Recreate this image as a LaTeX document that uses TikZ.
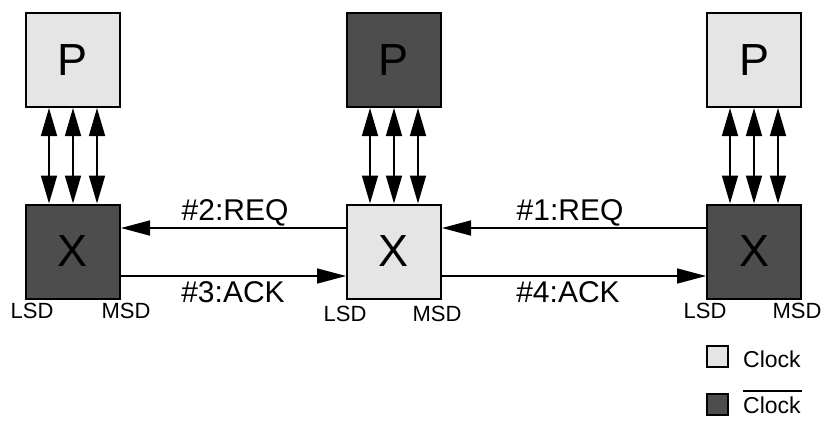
\documentclass[tikz,border=0pt]{standalone}
\usepackage{fontspec}
\setmainfont{Liberation Sans}
\usepackage{xcolor}
\usetikzlibrary{arrows.meta, positioning, calc}
\definecolor{clklight}{RGB}{229, 229, 229}
\definecolor{clkdark}{RGB}{77, 77, 77}

\begin{document}
\begin{tikzpicture}[
  x=1pt, y=-1pt,
  unit/.style={draw=black, line width=2pt, minimum width=94pt, minimum height=94pt, inner sep=0pt, font=\fontsize{45}{50}\selectfont},
  hi/.style={unit, fill=clklight},
  lo/.style={unit, fill=clkdark},
  bus/.style={{Triangle[length=28pt, width=16pt]}-{Triangle[length=28pt, width=16pt]}, line width=1.6pt},
  msg/.style={-{Triangle[length=29pt, width=15pt]}, line width=1.6pt},
  tag/.style={font=\fontsize{30}{34}\selectfont, anchor=base, inner sep=0pt},
  digit/.style={font=\fontsize{22}{26}\selectfont, anchor=base, inner sep=0pt},
  key/.style={draw=black, line width=1.6pt, minimum size=21.5pt, inner sep=0pt},
  keytext/.style={font=\fontsize{23}{27}\selectfont, anchor=base west, inner sep=0pt}
]
  \useasboundingbox (0,0) rectangle (830,421);

  % Prozessoren und Vermittler
  \node[hi] (p1) at (73, 60) {P};
  \node[lo] (p2) at (394, 60) {P};
  \node[hi] (p3) at (754, 60) {P};
  \node[lo] (x1) at (73, 251.5) {X};
  \node[hi] (x2) at (394, 251.5) {X};
  \node[lo] (x3) at (754, 251.5) {X};

  \foreach \i in {1,2,3}
    \foreach \d in {-24,0,24}
      \draw[bus] ([xshift=\d pt]p\i.south) -- ([xshift=\d pt]x\i.north);

  % Nachrichten
  \draw[msg] ([yshift=23.5pt]x2.west) -- ([yshift=23.5pt]x1.east);
  \draw[msg] ([yshift=-24.5pt]x1.east) -- ([yshift=-24.5pt]x2.west);
  \draw[msg] ([yshift=23.5pt]x3.west) -- ([yshift=23.5pt]x2.east);
  \draw[msg] ([yshift=-24.5pt]x2.east) -- ([yshift=-24.5pt]x3.west);

  \node[tag] (req2) at (235, 220) {\#2:REQ};
  \node[tag] (ack3) at (233, 302) {\#3:ACK};
  \node[tag] (req1) at (570, 220) {\#1:REQ};
  \node[tag] (ack4) at (568, 302) {\#4:ACK};

  \node[digit] (lsd1) at (32, 318) {LSD};
  \node[digit] (msd1) at (126, 318) {MSD};
  \node[digit] (lsd2) at (345, 321) {LSD};
  \node[digit] (msd2) at (437, 321) {MSD};
  \node[digit] (lsd3) at (705, 318) {LSD};
  \node[digit] (msd3) at (797, 318) {MSD};

  % Legende
  \node[key, fill=clklight] (k1) at (717.5, 356.5) {};
  \node[key, fill=clkdark] (k2) at (717.5, 404.5) {};
  \node[keytext] (t1) at (743, 367) {Clock};
  \node[keytext] (t2) at (743, 413) {\makebox[0pt][l]{\rule[21.5pt]{59pt}{1.5pt}}Clock};
\end{tikzpicture}
\end{document}
